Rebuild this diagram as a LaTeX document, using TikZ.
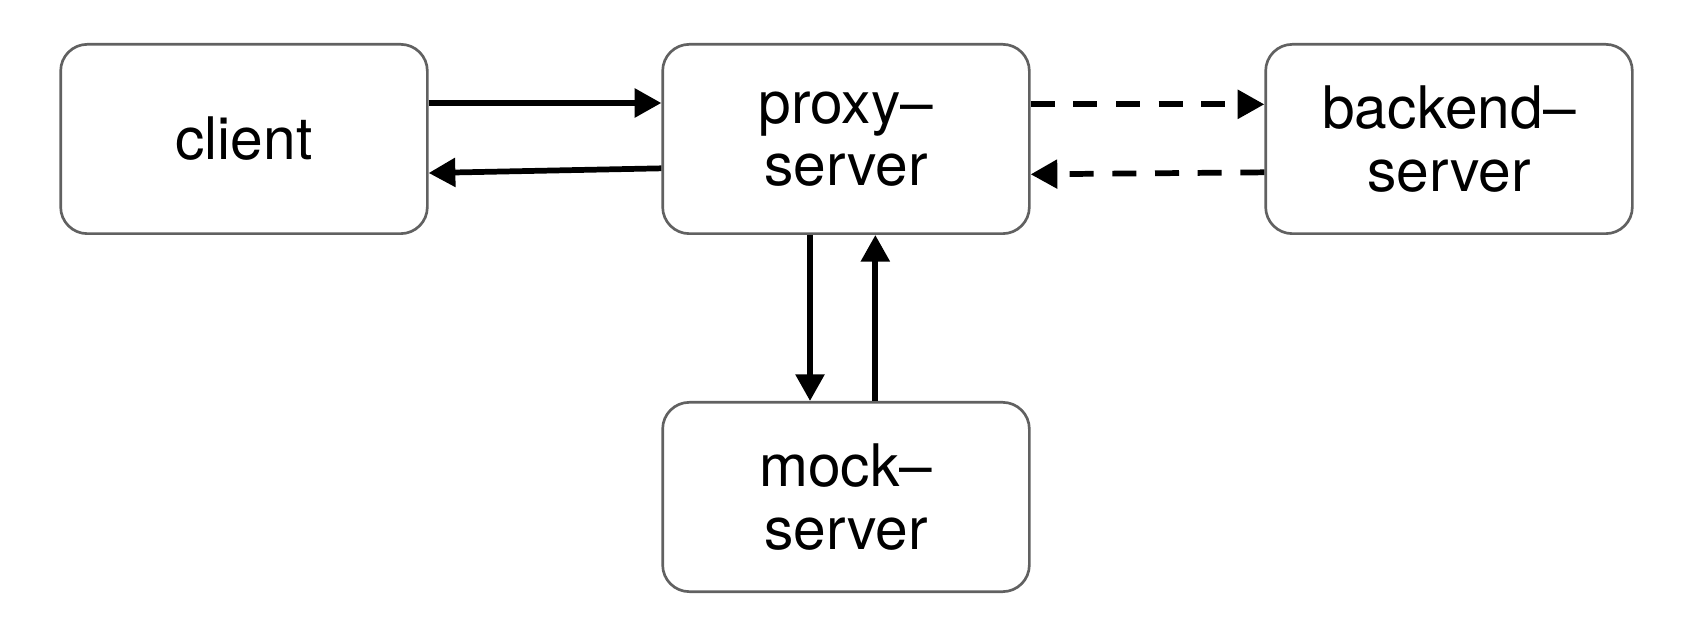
\documentclass[tikz,border=0pt]{standalone}
\usepackage{fontspec}
\setmainfont{TeX Gyre Heros}
\usetikzlibrary{arrows.meta,calc}
\tikzset{
  box/.style={draw=black!62, line width=2pt, rounded corners=20pt, minimum width=275pt, minimum height=142pt, align=center, font=\fontsize{44}{47}\selectfont, inner sep=0pt},
  conn/.style={line width=4.3pt, -{Triangle[length=20pt,width=21pt]}},
  dconn/.style={conn, dash pattern=on 18pt off 14pt},
}
\begin{document}
\begin{tikzpicture}[x=0.75pt,y=-0.75pt]
\useasboundingbox (0,0) rectangle (1696,634);
\node[box] (client) at (244,139) {client};
\node[box] (proxy) at (846,139) {proxy\textendash\\server};
\node[box] (backend) at (1449,139) {backend\textendash\\server};
\node[box] (mock) at (846,497) {mock\textendash\\server};
\draw[conn] ([yshift=27pt]client.east) -- ([yshift=27pt]proxy.west);
\draw[conn] ([yshift=-22pt]proxy.west) -- ([yshift=-25.5pt]client.east);
\draw[dconn] ([yshift=26pt]proxy.east) -- ([yshift=26pt]backend.west);
\draw[dconn] ([yshift=-25pt]backend.west) -- ([yshift=-26.5pt]proxy.east);
\draw[conn] ([xshift=-27pt]proxy.south) -- ([xshift=-27pt]mock.north);
\draw[conn] ([xshift=22pt]mock.north) -- ([xshift=22pt]proxy.south);
\end{tikzpicture}
\end{document}
